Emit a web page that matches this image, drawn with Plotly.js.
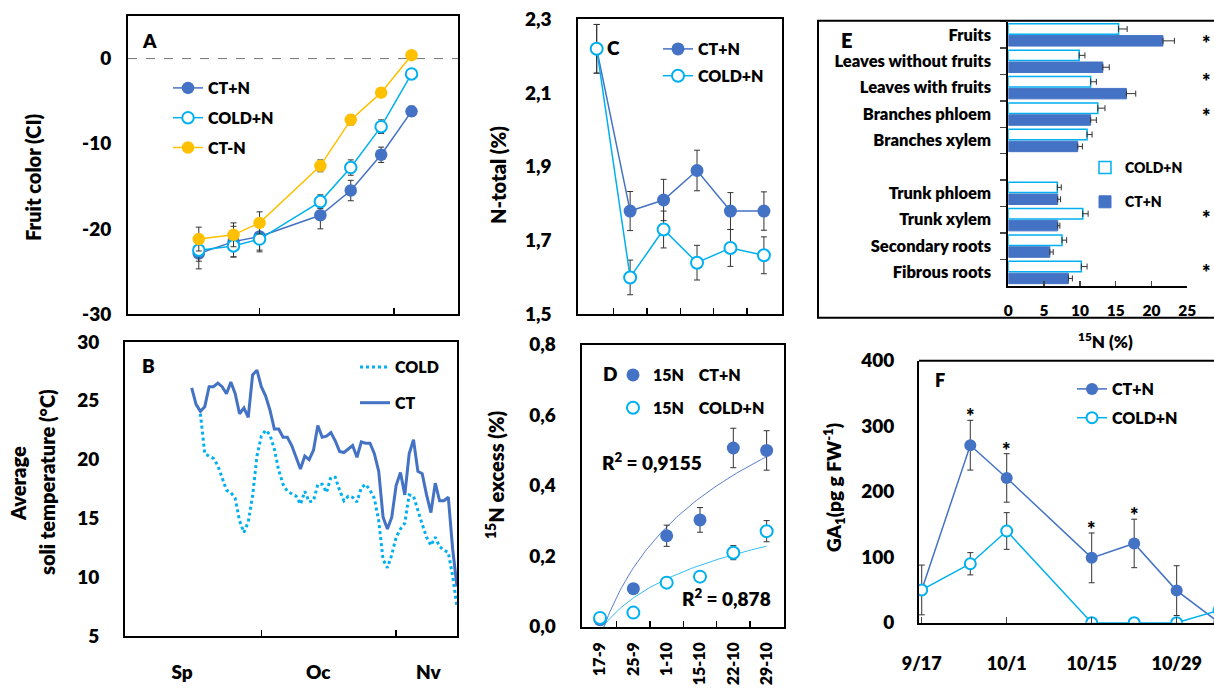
<!DOCTYPE html>
<html><head><meta charset="utf-8">
<script src="https://cdn.plot.ly/plotly-3.0.1.min.js"></script>
<style>html,body{margin:0;padding:0;background:#fff}#chart{width:1214px;height:690px}</style>
</head><body><div id="chart"></div>
<script>
// ================= DATA =================
// Panel A – fruit colour index (days counted from 1 September)
const colorDays   = [16, 24, 30, 44, 51, 58, 65];
const ciCTN       = [-22.9, -21.5, -20.9, -18.4, -15.5, -11.3, -6.2];
const ciCTNerr    = [1.8, 1.8, 1.6, 1.6, 1.2, 0.9, 0.6];
const ciCOLDN     = [-22.5, -22.0, -21.2, -16.8, -12.8, -8.0, -1.8];
const ciCOLDNerr  = [1.3, 1.3, 1.5, 0.8, 0.9, 0.8, 0.6];
const ciCTminusN  = [-21.2, -20.7, -19.3, -12.6, -7.2, -4.0, 0.4];
const ciCTminusErr= [1.4, 1.4, 1.3, 0.7, 0.6, 0.5, 0.4];
const ciTicks     = [-30, -20, -10, 0];
const monthLabels = ['Sp', 'Oc', 'Nv'];

// Panel B – daily average soil temperature (°C)
const tempCTFirstDay = 14;
const tempCT = [26.1, 24.7, 24.1, 24.5, 26.2, 26.2, 26.5, 26.2, 25.6, 26.6,
                25.6, 23.9, 24.4, 23.6, 27.2, 27.6, 26.2, 25.4, 24.2, 22.6,
                22.6, 21.9, 21.9, 21.2, 20.2, 19.2, 20.3, 20.0, 20.8, 22.9,
                21.9, 22.0, 22.3, 21.6, 20.7, 20.6, 20.9, 21.2, 20.2, 21.5,
                21.4, 21.4, 20.5, 19.0, 15.1, 14.1, 15.1, 17.8, 18.9, 17.0,
                20.5, 21.7, 19.0, 18.8, 17.0, 15.5, 18.0, 16.5, 16.5, 16.8,
                12.4, 9.2];
const tempCOLDFirstDay = 16;
const tempCOLD = [23.9, 20.5, 20.3, 20.1, 19.5, 18.4, 17.4, 17.2, 16.7, 14.8,
                  13.8, 14.7, 16.9, 20.3, 22.0, 22.5, 22.1, 20.9, 19.1, 17.9,
                  17.3, 17.1, 16.9, 16.2, 17.3, 16.4, 16.5, 17.9, 17.9, 17.2,
                  18.5, 18.5, 17.4, 16.5, 16.9, 16.8, 16.4, 17.6, 17.9, 17.4,
                  16.7, 14.8, 11.5, 10.8, 11.9, 13.4, 14.1, 14.6, 17.0, 16.9,
                  15.6, 14.5, 13.4, 12.7, 13.4, 12.6, 12.3, 12.1, 10.1, 7.5];

// Panels C, D – sampling dates
const sampleDates = ['17-9', '25-9', '1-10', '15-10', '22-10', '29-10'];
// Panel C – total N (%)
const nTotCTN      = [2.22, 1.78, 1.81, 1.89, 1.78, 1.78];
const nTotCTNerr   = [0.066, 0.053, 0.056, 0.055, 0.05, 0.052];
const nTotCOLDN    = [2.22, 1.60, 1.73, 1.64, 1.68, 1.66];
const nTotCOLDNerr = [0.066, 0.047, 0.05, 0.047, 0.05, 0.05];
// Panel D – 15N excess (%)
const n15CTN       = [0.02, 0.108, 0.258, 0.303, 0.507, 0.50];
const n15CTNerr    = [0, 0.01, 0.03, 0.035, 0.056, 0.056];
const n15COLDN     = [0.025, 0.04, 0.125, 0.142, 0.21, 0.271];
const n15COLDNerr  = [0, 0, 0, 0, 0.02, 0.03];
const r2CTN = '0,9155', r2COLDN = '0,878';

// Panel E – 15N (%) per organ
const organs   = ['Fruits', 'Leaves without fruits', 'Leaves with fruits', 'Branches phloem', 'Branches xylem',
                  'Trunk phloem', 'Trunk xylem', 'Secondary roots', 'Fibrous roots'];
const organCOLDN    = [15.4, 9.9, 11.5, 12.5, 11.0, 6.85, 10.4, 7.5, 10.2];
const organCOLDNerr = [1.2, 0.8, 0.8, 1.0, 0.7, 0.55, 0.75, 0.65, 0.8];
const organCTN      = [21.6, 13.2, 16.5, 11.5, 9.7, 6.9, 6.9, 5.8, 8.4];
const organCTNerr   = [1.6, 0.9, 1.3, 0.8, 0.65, 0.4, 0.3, 0.47, 0.55];
const organSig      = ['*', '', '*', '*', '', '', '*', '', '*'];

// Panel F – GA1 (pg g FW-1)
const gaDates   = ['2019-09-17', '2019-09-25', '2019-10-01', '2019-10-15', '2019-10-22', '2019-10-29', '2019-11-05'];
const gaCTN     = [50, 271, 221, 99, 121, 49, 0];
const gaCTNerr  = [38, 38, 37, 38, 37, 38, 0];
const gaCOLDN   = [50, 90, 140, 0, 0, 0, 19];
const gaCOLDNerr= [0, 17, 28, 0, 0, 0, 0];
const gaSig     = ['', '*', '*', '*', '*', '', ''];

// ================= STYLE / LAYOUT HELPERS =================
const W = 1214, H = 690;
const FONT = 'Lato, "Open Sans", sans-serif';
const C_CT = '#4472C4', C_COLD = '#00B0F0', C_CTm = '#FFC000';
const dx = (a, b) => [a / W, b / W];
const dy = (top, bot) => [1 - bot / H, 1 - top / H];
const f = (size) => ({family: FONT, size: size, color: '#000', weight: 800});
const ERR = {color: '#333', thickness: 1, width: 3};

function axis(extra) {
  return Object.assign({
    showline: true, linecolor: '#000', linewidth: 2, mirror: true,
    showgrid: false, zeroline: false, ticks: '', tickfont: f(19), fixedrange: true
  }, extra);
}
function minorTicks(vals) {
  return {tickmode: 'array', tickvals: vals, ticks: 'inside', ticklen: 6, tickwidth: 1.5, tickcolor: '#000', showgrid: false};
}
const idx = sampleDates.map((_, i) => i);
const boundaries = sampleDates.slice(1).map((_, i) => i + 0.5);

// log trendlines for panel D (least squares on ln(sample number))
function logFit(ys) {
  const lx = ys.map((_, i) => Math.log(i + 1));
  const mx = lx.reduce((a, b) => a + b, 0) / lx.length;
  const my = ys.reduce((a, b) => a + b, 0) / ys.length;
  let sxy = 0, sxx = 0;
  lx.forEach((v, i) => { sxy += (v - mx) * (ys[i] - my); sxx += (v - mx) * (v - mx); });
  const a = sxy / sxx, b = my - a * mx;
  const xs = [], yv = [];
  for (let t = 0; t <= (ys.length - 1) * 20; t++) { const x = t / 20; xs.push(x); yv.push(a * Math.log(x + 1) + b); }
  return {x: xs, y: yv};
}
const fitCT = logFit(n15CTN), fitCOLD = logFit(n15COLDN);

function lm(name, x, y, err, color, open, size, xa, ya, leg, group) {
  return {
    type: 'scatter', mode: 'lines+markers', name: name, x: x, y: y,
    xaxis: xa, yaxis: ya, legend: leg, legendgroup: group,
    line: {color: color, width: 1.5},
    marker: open ? {symbol: 'circle', size: size - 1, color: '#fff', line: {color: color, width: 2}}
                 : {symbol: 'circle', size: size, color: color, line: {color: color, width: 0}},
    error_y: Object.assign({type: 'data', array: err, visible: true}, ERR),
    cliponaxis: true
  };
}

const traces = [];
// A
traces.push(lm('CT+N', colorDays, ciCTN, ciCTNerr, C_CT, false, 12.5, 'x', 'y', 'legend', 'a1'));
traces.push(lm('COLD+N', colorDays, ciCOLDN, ciCOLDNerr, C_COLD, true, 12.5, 'x', 'y', 'legend', 'a2'));
traces.push(lm('CT-N', colorDays, ciCTminusN, ciCTminusErr, C_CTm, false, 12.5, 'x', 'y', 'legend', 'a3'));
// B
traces.push({type: 'scatter', mode: 'lines', name: 'COLD', x0: tempCOLDFirstDay, dx: 1, y: tempCOLD,
  xaxis: 'x2', yaxis: 'y2', legend: 'legend2', legendgroup: 'b1',
  line: {color: C_COLD, width: 3, dash: '3px,3px'}});
traces.push({type: 'scatter', mode: 'lines', name: 'CT', x0: tempCTFirstDay, dx: 1, y: tempCT,
  xaxis: 'x2', yaxis: 'y2', legend: 'legend2', legendgroup: 'b2',
  line: {color: C_CT, width: 3}});
// C
traces.push(lm('CT+N', idx, nTotCTN, nTotCTNerr, C_CT, false, 13, 'x3', 'y3', 'legend3', 'c1'));
traces.push(lm('COLD+N', idx, nTotCOLDN, nTotCOLDNerr, C_COLD, true, 13, 'x3', 'y3', 'legend3', 'c2'));
// D
traces.push({type: 'scatter', mode: 'lines', x: fitCT.x, y: fitCT.y, xaxis: 'x4', yaxis: 'y4', showlegend: false,
  line: {color: '#5B7FCC', width: 1}, hoverinfo: 'skip'});
traces.push({type: 'scatter', mode: 'lines', x: fitCOLD.x, y: fitCOLD.y, xaxis: 'x4', yaxis: 'y4', showlegend: false,
  line: {color: '#33BDF2', width: 1}, hoverinfo: 'skip'});
traces.push({type: 'scatter', mode: 'markers', name: '15N\u00a0\u00a0\u00a0\u00a0CT+N', x: idx, y: n15CTN,
  xaxis: 'x4', yaxis: 'y4', legend: 'legend4', legendgroup: 'd1',
  marker: {size: 13, color: C_CT}, error_y: Object.assign({type: 'data', array: n15CTNerr}, ERR)});
traces.push({type: 'scatter', mode: 'markers', name: '15N\u00a0\u00a0\u00a0\u00a0COLD+N', x: idx, y: n15COLDN,
  xaxis: 'x4', yaxis: 'y4', legend: 'legend4', legendgroup: 'd2',
  marker: {size: 12, color: '#fff', line: {color: C_COLD, width: 2}}, error_y: Object.assign({type: 'data', array: n15COLDNerr}, ERR)});
// E
traces.push({type: 'bar', orientation: 'h', name: 'COLD+N', y: organs, x: organCOLDN,
  xaxis: 'x5', yaxis: 'y5', legend: 'legend5', legendgroup: 'e1',
  marker: {color: '#fff', line: {color: C_COLD, width: 1.5}},
  error_x: Object.assign({type: 'data', symmetric: false, array: organCOLDNerr, arrayminus: organCOLDNerr.map(() => 0)}, ERR)});
traces.push({type: 'bar', orientation: 'h', name: 'CT+N', y: organs, x: organCTN,
  xaxis: 'x5', yaxis: 'y5', legend: 'legend5', legendgroup: 'e2',
  marker: {color: C_CT, line: {color: C_CT, width: 1}},
  error_x: Object.assign({type: 'data', symmetric: false, array: organCTNerr, arrayminus: organCTNerr.map(() => 0)}, ERR)});
// F
traces.push(lm('CT+N', gaDates, gaCTN, gaCTNerr, C_CT, false, 12, 'x6', 'y6', 'legend6', 'f1'));
traces.push(lm('COLD+N', gaDates, gaCOLDN, gaCOLDNerr, C_COLD, true, 12, 'x6', 'y6', 'legend6', 'f2'));

// ================= LAYOUT =================
const organSlots = organs.slice(0, 5).concat([' '], organs.slice(5));

const layout = {
  width: W, height: H, margin: {l: 0, r: 0, t: 0, b: 0},
  paper_bgcolor: '#fff', plot_bgcolor: 'rgba(0,0,0,0)',
  font: f(16), separators: ',.', showlegend: true,
  barmode: 'group', bargap: 0.1, bargroupgap: 0.12,
  // A
  xaxis: axis({domain: dx(128, 458), range: [-0.3, 75.7], anchor: 'y', showticklabels: false,
               minor: minorTicks([30, 61])}),
  yaxis: axis({domain: dy(16, 314), range: [-30, 5], anchor: 'x', tickvals: ciTicks, ticktext: ciTicks.map(String), ticklabelstandoff: 11}),
  // B
  xaxis2: axis({domain: dx(125, 457), range: [-1.34, 75], anchor: 'y2', tickvals: [11.8, 43.1, 68.4], ticktext: monthLabels,
                ticklabelstandoff: 18, tickfont: f(19), minor: minorTicks([30, 61])}),
  yaxis2: axis({domain: dy(342, 636), range: [5, 30], anchor: 'x2', dtick: 5, tick0: 5, ticklabelstandoff: 20}),
  // C
  xaxis3: axis({domain: dx(578.3, 782.3), range: [-0.55, 5.55], anchor: 'y3', showticklabels: false,
                minor: minorTicks(boundaries)}),
  yaxis3: axis({domain: dy(19.3, 314.3), range: [1.5, 2.3], anchor: 'x3', tick0: 1.5, dtick: 0.2, tickformat: '.1f', ticklabelstandoff: 21}),
  // D
  xaxis4: axis({domain: dx(581.7, 784.3), range: [-0.55, 5.53], anchor: 'y4', tickvals: idx, ticktext: sampleDates,
                tickangle: -90, tickfont: f(16), ticklabelstandoff: 7, minor: minorTicks(boundaries)}),
  yaxis4: axis({domain: dy(344.7, 626.7), range: [0, 0.8], anchor: 'x4', dtick: 0.2, tickformat: '.1f', ticklabelstandoff: 20}),
  // E
  xaxis5: axis({domain: dx(1008.3, 1187.3), range: [0, 25], anchor: 'y5', mirror: false, dtick: 5,
                ticks: 'inside', ticklen: 5, tickwidth: 1.5, tickfont: f(15.5), ticklabelstandoff: 10}),
  yaxis5: axis({domain: dy(21.7, 285.7), anchor: 'x5', mirror: false, type: 'category',
                categoryorder: 'array', categoryarray: organSlots, range: [organSlots.length - 0.5, -0.5],
                ticks: 'outside', tickson: 'boundaries', ticklen: 6, tickwidth: 1.5, tickfont: f(16.5), ticklabelstandoff: 12}),
  // F
  xaxis6: axis({domain: dx(919, 1214), type: 'date', range: ['2019-09-16 13:12', '2019-11-04 03:36'], anchor: 'y6',
                mirror: false, tick0: '2019-09-17', dtick: 14 * 86400000, tickformat: '%-m/%-d',
                ticks: 'inside', ticklen: 6, tickwidth: 1.5, tickfont: f(18), ticklabelstandoff: 24}),
  yaxis6: axis({domain: dy(360.7, 622.7), range: [0, 400], anchor: 'x6', mirror: false, dtick: 100, ticklabelstandoff: 19}),

  legend:  {x: 168 / W, y: 1 - 71 / H, xanchor: 'left', yanchor: 'top', bgcolor: 'rgba(0,0,0,0)', font: f(16), tracegroupgap: 6, traceorder: 'grouped'},
  legend2: {x: 355 / W, y: 1 - 350 / H, xanchor: 'left', yanchor: 'top', bgcolor: 'rgba(0,0,0,0)', font: f(16), tracegroupgap: 12, traceorder: 'grouped'},
  legend3: {x: 658 / W, y: 1 - 32 / H, xanchor: 'left', yanchor: 'top', bgcolor: 'rgba(0,0,0,0)', font: f(16), tracegroupgap: 3, traceorder: 'grouped'},
  legend4: {x: 613 / W, y: 1 - 358 / H, xanchor: 'left', yanchor: 'top', bgcolor: 'rgba(0,0,0,0)', font: f(16), tracegroupgap: 9, traceorder: 'grouped'},
  legend5: {x: 1085 / W, y: 1 - 152 / H, xanchor: 'left', yanchor: 'top', bgcolor: 'rgba(0,0,0,0)', font: f(14), tracegroupgap: 13, traceorder: 'grouped'},
  legend6: {x: 1072 / W, y: 1 - 372 / H, xanchor: 'left', yanchor: 'top', bgcolor: 'rgba(0,0,0,0)', font: f(16), tracegroupgap: 5, traceorder: 'grouped'},

  shapes: [
    {type: 'line', xref: 'x domain', yref: 'y', x0: 0, x1: 1, y0: 0, y1: 0, line: {color: '#777', width: 1, dash: 'dash'}, layer: 'below'},
    {type: 'line', xref: 'x6 domain', yref: 'y6 domain', x0: 0, x1: 1.05, y0: 1, y1: 1, line: {color: '#000', width: 2}},
    {type: 'rect', xref: 'paper', yref: 'paper', x0: 818 / W, x1: 1.01, y0: 1 - 317.7 / H, y1: 1 - 20.7 / H, line: {color: '#000', width: 2}}
  ],
  annotations: []
};

function note(text, x, y, size, extra) {
  layout.annotations.push(Object.assign({text: text, xref: 'paper', yref: 'paper', x: x / W, y: 1 - y / H,
    showarrow: false, xanchor: 'center', yanchor: 'middle', font: f(size)}, extra || {}));
}
// panel letters
note('A', 149, 41, 19); note('B', 148, 365, 19); note('C', 613, 47, 19);
note('D', 610, 373, 19); note('E', 847, 40, 20); note('F', 940, 380, 18);
// axis titles
note('Fruit color (CI)', 33, 177, 20, {textangle: -90});
note('Average', 18, 484, 20, {textangle: -90});
note('soli temperature (°C)', 47, 482, 20, {textangle: -90});
note('N-total (%)', 498, 175, 20, {textangle: -90});
note('<sup>15</sup>N excess (%)', 495, 475, 20, {textangle: -90});
note('GA<sub>1</sub>(pg g FW<sup>-1</sup>)', 834, 488, 19, {textangle: -90});
note('<sup>15</sup>N (%)', 1105, 340, 17);
// R² labels
note('R<sup>2</sup> = ' + r2CTN, 652, 461, 19);
note('R<sup>2</sup> = ' + r2COLDN, 726, 597, 19);
// significance marks – panel E (small vertical nudges as in the original figure)
const sigShiftE = [-8, 0, 7, -2, 0, 0, 2, 0, 1];
organs.forEach((o, i) => {
  if (organSig[i]) layout.annotations.push({text: organSig[i], xref: 'paper', yref: 'y5', x: 1206 / W, y: o,
    showarrow: false, font: f(20), xanchor: 'center', yanchor: 'middle', yshift: sigShiftE[i]});
});
// significance marks – panel F
gaDates.forEach((d, i) => {
  if (gaSig[i]) layout.annotations.push({text: gaSig[i], xref: 'x6', yref: 'y6', x: d, y: gaCTN[i] + gaCTNerr[i],
    showarrow: false, font: f(20), xanchor: 'center', yanchor: 'bottom', yshift: -10});
});

Plotly.newPlot('chart', traces, layout, {displayModeBar: false, staticPlot: true});
</script></body></html>
